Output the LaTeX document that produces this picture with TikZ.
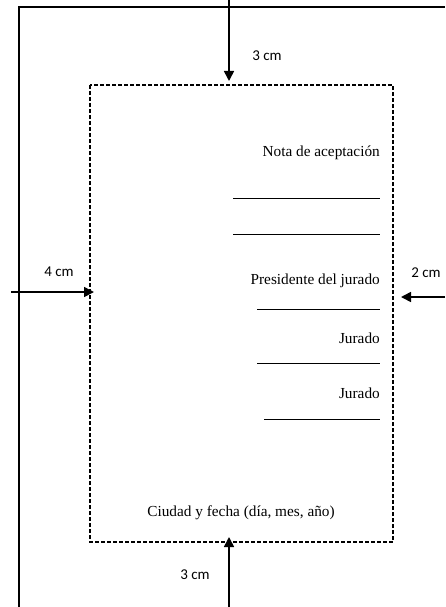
\documentclass[tikz,border=0pt]{standalone}
\usepackage{fontspec}
\setmainfont{Liberation Serif}
\setsansfont{Carlito}
\usetikzlibrary{arrows.meta}

\begin{document}
\begin{tikzpicture}[x=1pt, y=-1pt,
    flecha/.style={line width=1.6pt, -{Triangle[length=10pt,width=10pt]}},
    medida/.style={font=\sffamily\fontsize{15}{18}\selectfont, inner sep=0pt},
    texto/.style={font=\fontsize{15.3}{18}\selectfont, inner sep=0pt, anchor=east},
    firma/.style={line width=0.9pt}]
    \def\izq{90}
    \def\der{393}
    \def\arr{85}
    \def\aba{542}
    \def\fin{380}
    \useasboundingbox (0,0) rectangle (445,607);
    % hoja
    \draw[line width=1.6pt] (19,607) -- (19,7) -- (445,7);
    % margenes
    \draw[line width=1.1pt, dash pattern=on 4pt off 2pt] (\izq,\arr) rectangle (\der,\aba);
    % puntos de las flechas
    \coordinate (sup0) at (229,0);
    \coordinate (sup1) at (229,\arr-4);
    \coordinate (inf0) at (229,607);
    \coordinate (inf1) at (229,\aba-5);
    \coordinate (izq0) at (11,292);
    \coordinate (izq1) at (\izq+4,292);
    \coordinate (der0) at (445,297);
    \coordinate (der1) at (\der+8,297);
    \draw[flecha] (sup0) -- (sup1);
    \draw[flecha] (inf0) -- (inf1);
    \draw[flecha] (izq0) -- (izq1);
    \draw[flecha] (der0) -- (der1);
    \node[medida] (msup) at (267,56) {3 cm};
    \node[medida] (minf) at (195,575) {3 cm};
    \node[medida] (mizq) at (59,272) {4 cm};
    \node[medida] (mder) at (426,273) {2 cm};
    % textos
    \node[texto] (nota) at (\fin,153) {Nota de aceptación};
    \node[texto] (pres) at (\fin,281) {Presidente del jurado};
    \node[texto] (jur1) at (\fin,338) {Jurado};
    \node[texto] (jur2) at (\fin,393) {Jurado};
    \node[font=\fontsize{15.3}{18}\selectfont, inner sep=0pt] (ciudad) at (241,513) {Ciudad y fecha (día, mes, año)};
    % lineas de firma
    \foreach \y/\x in {198/233, 234/233, 309/257, 363/257, 419/264} {
        \draw[firma] (\x,\y) -- (\fin,\y);
    }
\end{tikzpicture}
\end{document}
